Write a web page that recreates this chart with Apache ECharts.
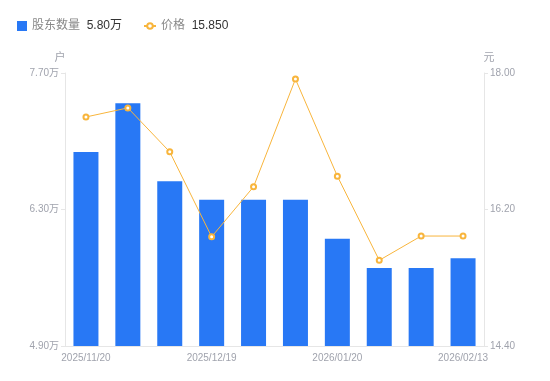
<!DOCTYPE html>
<html><head><meta charset="utf-8">
<script src="https://cdn.jsdelivr.net/npm/echarts@6/dist/echarts.min.js"></script>
<style>html,body{margin:0;padding:0;background:#fff}#c{width:550px;height:381px}</style>
</head><body><div id="c"></div>
<script>
const categories = ['2025/11/20','2025/11/28','2025/12/10','2025/12/19','2025/12/31','2026/01/09','2026/01/20','2026/01/30','2026/02/06','2026/02/13'];
const holders = [6.89, 7.39, 6.59, 6.40, 6.40, 6.40, 6.00, 5.70, 5.70, 5.80];
const prices = [17.42, 17.54, 16.96, 15.84, 16.50, 17.92, 16.64, 15.53, 15.85, 15.85];
const leftTicks = [4.90, 6.30, 7.70];
const rightTicks = [14.40, 16.20, 18.00];

const chart = echarts.init(document.getElementById('c'));
const labelColor = '#a0a3ad';
const lineColor = '#e6e6e6';
const orange = '#f8b53c';
const legendText = { rich: { a: { color: '#888', fontSize: 12 }, b: { color: '#333', fontSize: 12 } } };
chart.setOption({
  animation: false,
  textStyle: { fontFamily: 'Liberation Sans, Noto Sans CJK SC, sans-serif' },
  legend: [{
    left: 12, top: 15, itemWidth: 10, itemHeight: 10,
    data: [{ name: '股东数量', icon: 'rect' }],
    formatter: n => '{a|' + n + '}  {b|' + holders[holders.length - 1].toFixed(2) + '万}',
    textStyle: legendText
  }, {
    left: 138, top: 15, itemWidth: 12, itemHeight: 7,
    data: [{ name: '价格' }],
    formatter: n => '{a|' + n + '}  {b|' + prices[prices.length - 1].toFixed(3) + '}',
    textStyle: legendText
  }],
  grid: { left: 65, right: 66, top: 73, bottom: 35 },
  xAxis: {
    type: 'category', data: categories,
    axisLine: { lineStyle: { color: lineColor } },
    axisTick: { show: false },
    axisLabel: { interval: 2, color: labelColor, fontSize: 10, margin: 7 }
  },
  yAxis: [{
    type: 'value', name: '户', nameGap: 10,
    nameTextStyle: { color: labelColor, fontSize: 11, padding: [0, 0, 0, -10] },
    min: leftTicks[0], max: leftTicks[2], interval: leftTicks[1] - leftTicks[0],
    axisLine: { show: true, lineStyle: { color: lineColor } },
    axisTick: { show: true, length: 4, lineStyle: { color: lineColor } },
    splitLine: { show: false },
    axisLabel: { color: labelColor, fontSize: 10, margin: 6, formatter: v => v.toFixed(2) + '万' }
  }, {
    type: 'value', name: '元', nameGap: 10,
    nameTextStyle: { color: labelColor, fontSize: 11, padding: [0, 0, 0, 10] },
    min: rightTicks[0], max: rightTicks[2], interval: rightTicks[1] - rightTicks[0],
    axisLine: { show: true, lineStyle: { color: lineColor } },
    axisTick: { show: true, length: 4, lineStyle: { color: lineColor } },
    splitLine: { show: false },
    axisLabel: { color: labelColor, fontSize: 10, margin: 6, formatter: v => v.toFixed(2) }
  }],
  series: [{
    name: '股东数量', type: 'bar', data: holders, barWidth: 25,
    itemStyle: { color: '#2878f5' }
  }, {
    name: '价格', type: 'line', yAxisIndex: 1, data: prices,
    symbol: 'emptyCircle', symbolSize: 5,
    lineStyle: { color: orange, width: 1 },
    itemStyle: { color: orange, borderWidth: 1.5 }
  }]
});
</script></body></html>
